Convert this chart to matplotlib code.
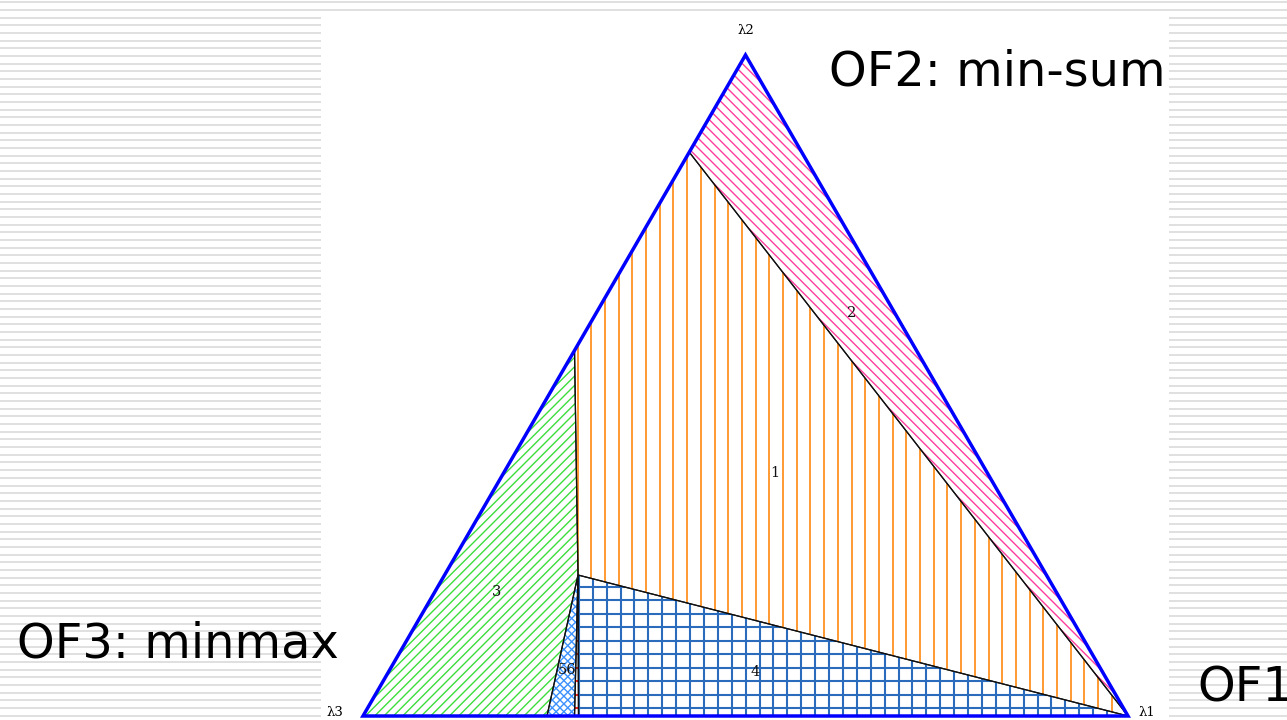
import numpy as np
import matplotlib
matplotlib.use("Agg")
import matplotlib.pyplot as plt
from matplotlib.patches import Polygon, Rectangle
from matplotlib.collections import LineCollection

# ---- Region data: corner weights (lambda1, lambda2); lambda3 = 1 - l1 - l2 ----
region_ids = ["1", "2", "3", "4", "5", "6"]
region_l1 = {
    "1": [0.0, 0.0, 0.1744, 1.0],
    "2": [0.0, 0.0, 1.0],
    "3": [0.0, 0.0, 0.1744, 0.2405],
    "4": [0.1744, 1.0, 0.2817],
    "5": [0.1744, 0.2405, 0.2765],
    "6": [0.1744, 0.2765, 0.2817],
}
region_l2 = {
    "1": [0.853, 0.553, 0.2133, 0.0],
    "2": [1.0, 0.853, 0.0],
    "3": [0.0, 0.553, 0.2133, 0.0],
    "4": [0.2133, 0.0, 0.0],
    "5": [0.2133, 0.0, 0.0],
    "6": [0.2133, 0.0, 0.0],
}
# label anchors (lambda1, lambda2)
label_texts = ["1", "2", "3", "4", "56"]
label_l1 = [0.3548, 0.3344, 0.0814, 0.479, 0.2319]
label_l2 = [0.3676, 0.6097, 0.1876, 0.0666, 0.0696]

vertex_names = ["\u03bb1", "\u03bb2", "\u03bb3"]
objective_texts = ["OF1", "OF2: min-sum", "OF3: minmax"]

# ---- canvas geometry (pixels) ----
W_PX, H_PX = 1287, 720
X3, Y3 = 363.0, 716.0      # lambda3 corner
SIDE, HEIGHT = 765.0, 661.0


def to_px(l1, l2):
    l1 = np.asarray(l1, float)
    l2 = np.asarray(l2, float)
    return X3 + SIDE * (l1 + 0.5 * l2), Y3 - HEIGHT * l2


fig = plt.figure(figsize=(W_PX / 100, H_PX / 100), dpi=100)
ax = fig.add_axes([0, 0, 1, 1])
ax.set_xlim(0, W_PX)
ax.set_ylim(H_PX, 0)
ax.axis("off")

# striped slide background with a white panel
for yy in np.arange(2.3, H_PX, 7.67):
    ax.plot([0, W_PX], [yy, yy], color="#dddddd", lw=1.3, zorder=0,
            solid_capstyle="butt")
ax.add_patch(Rectangle((321, 14), 1169 - 321, H_PX - 14, facecolor="white",
                       edgecolor="none", zorder=1))


def hatch(poly, direction, spacing, anchor, color, lw=1.0, z=3):
    d = np.asarray(direction, float)
    d /= np.hypot(*d)
    n = np.array([-d[1], d[0]])
    pts = poly.get_xy()
    proj = pts @ n
    c0 = anchor @ n
    kmin = int(np.floor((proj.min() - c0) / spacing)) - 1
    kmax = int(np.ceil((proj.max() - c0) / spacing)) + 1
    segs = []
    for k in range(kmin, kmax + 1):
        p0 = anchor + n * (k * spacing)
        t0 = (pts.mean(axis=0) - p0) @ d
        base = p0 + d * t0
        segs.append([base - d * 2000, base + d * 2000])
    lc = LineCollection(segs, colors=color, linewidths=lw, zorder=z)
    lc.set_clip_path(poly)
    ax.add_collection(lc)


polys = {}
for rid in region_ids:
    xs, ys = to_px(region_l1[rid], region_l2[rid])
    p = Polygon(np.column_stack([xs, ys]), closed=True, facecolor="none",
                edgecolor="none", zorder=2)
    ax.add_patch(p)
    polys[rid] = p

# region fills (hatching)
hatch(polys["1"], (0, 1), 13.7, np.array([769.3, 0.0]), "#ff9a33", lw=1.4)
hatch(polys["2"], (1, 1), 7.0, np.array([700.0, 150.0]), "#ff3d9e", lw=1.0)
hatch(polys["3"], (1, -1), 6.6, np.array([400.0, 700.0]), "#3ddc3d", lw=1.0)
hatch(polys["4"], (0, 1), 13.9, np.array([592.7, 0.0]), "#2a6bbb", lw=1.5)
hatch(polys["4"], (1, 0), 13.5, np.array([0.0, 586.7]), "#2a6bbb", lw=1.5)
hatch(polys["5"], (1, 1), 5.5, np.array([560.0, 700.0]), "#3a90ff", lw=1.0)
hatch(polys["5"], (1, -1), 5.5, np.array([560.0, 700.0]), "#3a90ff", lw=1.0)
hatch(polys["6"], (1, 0), 13.5, np.array([0.0, 586.7]), "#ff2222", lw=1.5)

# region boundaries
for rid in region_ids:
    xy = polys[rid].get_xy()
    ax.add_patch(Polygon(xy, closed=True, facecolor="none", edgecolor="#111111",
                         lw=0.9, zorder=4))

# outer triangle
tx, ty = to_px([1.0, 0.0, 0.0], [0.0, 1.0, 0.0])
ax.add_patch(Polygon(np.column_stack([tx, ty]), closed=True, facecolor="none",
                     edgecolor="#0000ff", lw=2.5, zorder=5, joinstyle="miter"))

# region labels
lx, ly = to_px(label_l1, label_l2)
for t, x, y in zip(label_texts, lx, ly):
    ax.text(x, y, t, ha="center", va="center", fontsize=10.5,
            family="DejaVu Serif", color="#111111", zorder=6)

# corner labels
ax.text(tx[0] + 19, ty[0] - 4, vertex_names[0], ha="center", va="center",
        fontsize=9.5, family="DejaVu Serif", zorder=6)
ax.text(tx[1], ty[1] - 25, vertex_names[1], ha="center", va="center",
        fontsize=9.5, family="DejaVu Serif", zorder=6)
ax.text(tx[2] - 28, ty[2] - 4, vertex_names[2], ha="center", va="center",
        fontsize=9.5, family="DejaVu Serif", zorder=6)

# objective function captions
ax.text(1197, 702, objective_texts[0], ha="left", va="baseline", fontsize=34.5,
        family="DejaVu Sans", zorder=6)
ax.text(829, 86, objective_texts[1], ha="left", va="baseline", fontsize=34.5,
        family="DejaVu Sans", zorder=6)
ax.text(17, 657, objective_texts[2], ha="left", va="baseline", fontsize=34.5,
        family="DejaVu Sans", zorder=6)

fig.savefig("out.png", dpi=100)
